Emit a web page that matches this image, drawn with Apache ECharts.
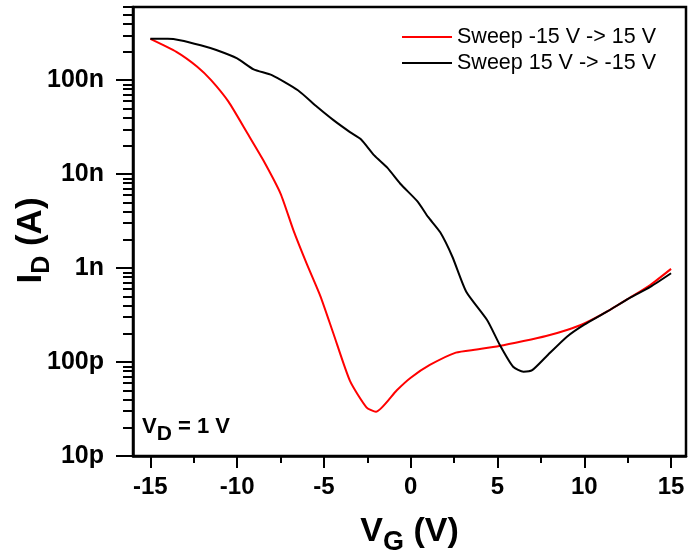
<!DOCTYPE html>
<html>
<head>
<meta charset="utf-8">
<script src="https://cdn.jsdelivr.net/npm/echarts@6/dist/echarts.min.js"></script>
<style>
html,body{margin:0;padding:0;background:#fff;}
#chart{width:689px;height:560px;}
</style>
</head>
<body>
<div id="chart"></div>
<script>
// Sweep -15 V -> 15 V (red)
const vgRed = [-15, -13.5, -12.3, -11.5, -10.5, -9.4, -8.5, -7.5, -6.75, -6.0, -5.2, -4.45, -3.5, -2.55, -2.0, -0.8, 0, 1.1, 2.6, 3.8, 5.1, 6.5, 7.8, 9.0, 10.0, 11.3, 12.6, 13.8, 15];
const idRed = [2.75e-7, 2.0e-7, 1.39e-7, 1.0e-7, 5.9e-8, 2.7e-8, 1.41e-8, 6.2e-9, 2.5e-9, 1.12e-9, 5.0e-10, 2.0e-10, 6.3e-11, 3.3e-11, 2.95e-11, 5.0e-11, 6.8e-11, 9.3e-11, 1.26e-10, 1.36e-10, 1.48e-10, 1.67e-10, 1.89e-10, 2.19e-10, 2.57e-10, 3.43e-10, 4.8e-10, 6.6e-10, 9.8e-10];
// Sweep 15 V -> -15 V (black)
const vgBlack = [-15, -14, -13.3, -12.1, -11.2, -10.0, -9.05, -8.0, -6.5, -5.4, -4.45, -3.5, -2.87, -2.1, -1.35, -0.6, 0.4, 1.0, 1.7, 2.4, 3.2, 4.4, 5.15, 5.9, 6.5, 7.0, 7.8, 9.0, 10.0, 11.3, 12.6, 13.8, 15];
const idBlack = [2.75e-7, 2.75e-7, 2.66e-7, 2.35e-7, 2.09e-7, 1.7e-7, 1.3e-7, 1.13e-7, 7.8e-8, 5.2e-8, 3.75e-8, 2.8e-8, 2.35e-8, 1.58e-8, 1.17e-8, 7.9e-9, 5.1e-9, 3.5e-9, 2.4e-9, 1.32e-9, 5.6e-10, 2.8e-10, 1.5e-10, 8.9e-11, 7.9e-11, 8.2e-11, 1.14e-10, 1.86e-10, 2.5e-10, 3.43e-10, 4.8e-10, 6.3e-10, 8.8e-10];

const xTickValues = [-15, -10, -5, 0, 5, 10, 15];
const xMinorTicks = [-12.5, -7.5, -2.5, 2.5, 7.5, 12.5];
const yTickValues = [1e-11, 1e-10, 1e-9, 1e-8, 1e-7];
const yTickLabels = ['10p', '100p', '1n', '10n', '100n'];
const yMinorMantissas = [2, 3, 4, 5, 6, 7, 8, 9];
const seriesNames = ['Sweep -15 V -> 15 V', 'Sweep 15 V -> -15 V'];

const yMin = 1e-11, yMax = 6e-7;
const yMinor = [];
yTickValues.forEach(d => yMinorMantissas.forEach(m => { const v = +(m * d).toPrecision(3); if (v <= yMax) yMinor.push(v); }));

const FONT = 'Liberation Sans, Arial, sans-serif';
const chart = echarts.init(document.getElementById('chart'), null, {renderer: 'canvas'});

const axisLineStyle = {color: '#000', width: 2.5};
const option = {
  animation: false,
  backgroundColor: '#fff',
  grid: {left: 133, right: 3, top: 7, bottom: 104, show: true, borderColor: '#000', borderWidth: 2.5, outerBoundsMode: 'none', containLabel: false},
  legend: {
    orient: 'vertical', right: 28, top: 21, itemWidth: 50, itemHeight: 2, itemGap: 4, icon: 'rect',
    textStyle: {fontFamily: FONT, fontSize: 21.5, color: '#000'},
    data: seriesNames
  },
  xAxis: [
    {
      type: 'value', min: -16, max: 15.86, position: 'bottom',
      axisLine: {show: true, onZero: false, lineStyle: axisLineStyle},
      axisTick: {show: true, inside: false, length: 12, lineStyle: {color: '#000', width: 2}, customValues: xTickValues},
      axisLabel: {show: true, margin: 19, fontFamily: FONT, fontSize: 24, fontWeight: 'bold', color: '#000', customValues: xTickValues},
      splitLine: {show: false},
      name: '{a|V}{s|G}{a| (V)}', nameLocation: 'middle', nameGap: 59, nameMoveOverlap: false,
      nameTextStyle: {rich: {
        a: {fontFamily: FONT, fontSize: 34, fontWeight: 'bold', color: '#000', lineHeight: 34, verticalAlign: 'top'},
        s: {fontFamily: FONT, fontSize: 27, fontWeight: 'bold', color: '#000', lineHeight: 27, verticalAlign: 'top', padding: [14, 0, 0, 0]}
      }}
    },
    {
      type: 'value', min: -16, max: 15.86, position: 'bottom',
      axisLine: {show: false, onZero: false},
      axisTick: {show: true, inside: false, length: 7, lineStyle: {color: '#000', width: 2}, customValues: xMinorTicks},
      axisLabel: {show: false},
      splitLine: {show: false}
    }
  ],
  yAxis: [
    {
      type: 'log', logBase: 10, min: yMin, max: yMax, position: 'left',
      axisLine: {show: true, onZero: false, lineStyle: axisLineStyle},
      axisTick: {show: true, inside: false, length: 17, lineStyle: {color: '#000', width: 2}, customValues: yTickValues},
      axisLabel: {show: true, margin: 29, fontFamily: FONT, fontSize: 25, fontWeight: 'bold', color: '#000', customValues: yTickValues,
        formatter: function (v) { const i = yTickValues.findIndex(t => Math.abs(Math.log10(t) - Math.log10(v)) < 1e-6); return i >= 0 ? yTickLabels[i] : ''; }},
      splitLine: {show: false},
      name: '{a|I}{s|D}{a| (A)}', nameLocation: 'middle', nameGap: 84, nameRotate: 90, nameMoveOverlap: false,
      nameTextStyle: {padding: [0, 18, 0, 0], rich: {
        a: {fontFamily: FONT, fontSize: 35, fontWeight: 'bold', color: '#000', lineHeight: 35, verticalAlign: 'top'},
        s: {fontFamily: FONT, fontSize: 25, fontWeight: 'bold', color: '#000', lineHeight: 25, verticalAlign: 'top', padding: [16, 0, 0, 0]}
      }}
    },
    {
      type: 'log', logBase: 10, min: yMin, max: yMax, position: 'left',
      axisLine: {show: false, onZero: false},
      axisTick: {show: true, inside: false, length: 10, lineStyle: {color: '#000', width: 2}, customValues: yMinor},
      axisLabel: {show: false},
      splitLine: {show: false}
    }
  ],
  graphic: [{
    type: 'text', left: 142, top: 416, silent: true,
    style: {
      text: '{a|V}{s|D}{a| = 1 V}',
      rich: {
        a: {fontFamily: FONT, fontSize: 22, fontWeight: 'bold', fill: '#000', lineHeight: 22, verticalAlign: 'top'},
        s: {fontFamily: FONT, fontSize: 21, fontWeight: 'bold', fill: '#000', lineHeight: 21, verticalAlign: 'top', padding: [8, 0, 0, 0]}
      }
    }
  }],
  series: [
    {
      name: seriesNames[0], type: 'line', xAxisIndex: 0, yAxisIndex: 0, symbol: 'none', smooth: 0.2,
      lineStyle: {color: '#ff0000', width: 2}, itemStyle: {color: '#ff0000'},
      data: vgRed.map((v, i) => [v, idRed[i]])
    },
    {
      name: seriesNames[1], type: 'line', xAxisIndex: 0, yAxisIndex: 0, symbol: 'none', smooth: 0.2,
      lineStyle: {color: '#000000', width: 2}, itemStyle: {color: '#000000'},
      data: vgBlack.map((v, i) => [v, idBlack[i]])
    }
  ]
};
chart.setOption(option);
</script>
</body>
</html>
